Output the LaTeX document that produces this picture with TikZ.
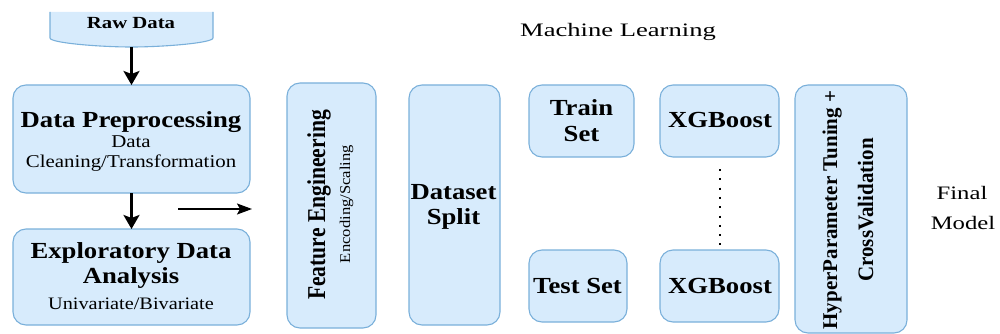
\documentclass[tikz,border=0pt]{standalone}
\usepackage{fontspec}
\setmainfont{Liberation Serif}
\usetikzlibrary{arrows.meta}
\definecolor{boxfill}{RGB}{215,235,252}
\definecolor{boxline}{RGB}{122,176,218}
\newcommand{\fs}[1]{\fontsize{#1}{#1}\selectfont}
\tikzset{
  box/.style={draw=boxline, fill=boxfill, line width=1.1pt, rounded corners=13pt,
              inner sep=0pt, outer sep=0pt},
  lbl/.style={inner sep=0pt, outer sep=0pt, anchor=base, text=black},
  title/.style={lbl, font=\fs{23}\bfseries, xscale=1.16},
  sub/.style={lbl, font=\fs{18}, xscale=1.16},
  flow/.style={-{Stealth[length=14pt,width=16pt,inset=3pt]}, line width=2.6pt},
  thin arrow/.style={-{Stealth[length=15pt,width=11pt,inset=3pt]}, line width=1.6pt}
}
\begin{document}
\begin{tikzpicture}[x=1pt,y=-1pt]
\useasboundingbox (0,0) rectangle (1000,334);

% raw data store, open at the top, curved bottom
\fill[boxfill] (50,12) -- (50,38) .. controls (50,43) and (100,47) .. (131.5,47)
  .. controls (163,47) and (213,43) .. (213,38) -- (213,12) -- cycle;
\draw[boxline, line width=1.1pt] (50,12) -- (50,38) .. controls (50,43) and (100,47) .. (131.5,47)
  .. controls (163,47) and (213,43) .. (213,38) -- (213,12);
\coordinate (rawbot) at (131.5,47);
\node[lbl, font=\fs{17}\bfseries, xscale=1.22] (raw) at (131,29) {Raw Data};

% processing boxes
\node[box, minimum width=237pt, minimum height=108pt] (pre)   at (131.5,139) {};
\node[box, minimum width=237pt, minimum height=96pt]  (eda)   at (131.5,277) {};
\node[box, minimum width=89pt,  minimum height=245pt] (fe)    at (331.5,205.5) {};
\node[box, minimum width=91pt,  minimum height=240pt] (split) at (454.5,205) {};
\node[box, minimum width=105pt, minimum height=72pt]  (train) at (581.5,121) {};
\node[box, minimum width=98pt,  minimum height=72pt]  (test)  at (578,286) {};
\node[box, minimum width=119pt, minimum height=72pt]  (xg1)   at (719.5,121) {};
\node[box, minimum width=119pt, minimum height=72pt]  (xg2)   at (719.5,286) {};
\node[box, minimum width=112pt, minimum height=248pt] (hyp)   at (851,209) {};

% box labels
\node[title] (preT) at (131,128) {Data Preprocessing};
\node[sub] (preS1) at (131,147) {Data};
\node[sub] (preS2) at (131,167) {Cleaning/Transformation};

\node[title] (edaT1) at (131,258) {Exploratory Data};
\node[title] (edaT2) at (131,283) {Analysis};
\node[lbl, font=\fs{17.5}, xscale=1.16] (edaS) at (131,309) {Univariate/Bivariate};

\node[lbl, font=\fs{21.6}\bfseries, xscale=1.19, rotate=90] (feT) at (325,205) {Feature Engineering};
\node[lbl, font=\fs{16.6}, xscale=0.9, rotate=90] (feS) at (350,204) {Encoding/Scaling};

\node[title] (splitT1) at (453.5,199) {Dataset};
\node[title] (splitT2) at (453.5,224) {Split};

\node[title] (trainT1) at (581.5,115) {Train};
\node[title] (trainT2) at (581.5,141) {Set};
\node[title] (testT) at (577.5,293) {Test Set};

\node[title] (xg1T) at (720,128) {XGBoost};
\node[title] (xg2T) at (720,293) {XGBoost};

\node[lbl, font=\fs{21}\bfseries, rotate=90] (hypT1) at (837,210) {HyperParameter Tuning +};
\node[lbl, font=\fs{21}\bfseries, xscale=1.05, rotate=90] (hypT2) at (873,210) {CrossValidation};

% free-standing captions
\node[lbl, font=\fs{19}, xscale=1.4] (ml) at (618,37) {Machine Learning};
\node[lbl, font=\fs{19}, xscale=1.3] (fin1) at (962,199) {Final};
\node[lbl, font=\fs{19}, xscale=1.3] (fin2) at (963,229) {Model};

% connectors
\draw[flow] (rawbot) -- (pre.north);
\draw[flow] (pre.south) -- (eda.north);
\coordinate (hstart) at (178,209);
\coordinate (hend) at (252,209);
\draw[thin arrow] (hstart) -- (hend);
\draw[line width=2pt, dash pattern=on 2pt off 7.3pt]
  ([yshift=-12pt]xg1.south) -- ([yshift=3pt]xg2.north);
\end{tikzpicture}
\end{document}
